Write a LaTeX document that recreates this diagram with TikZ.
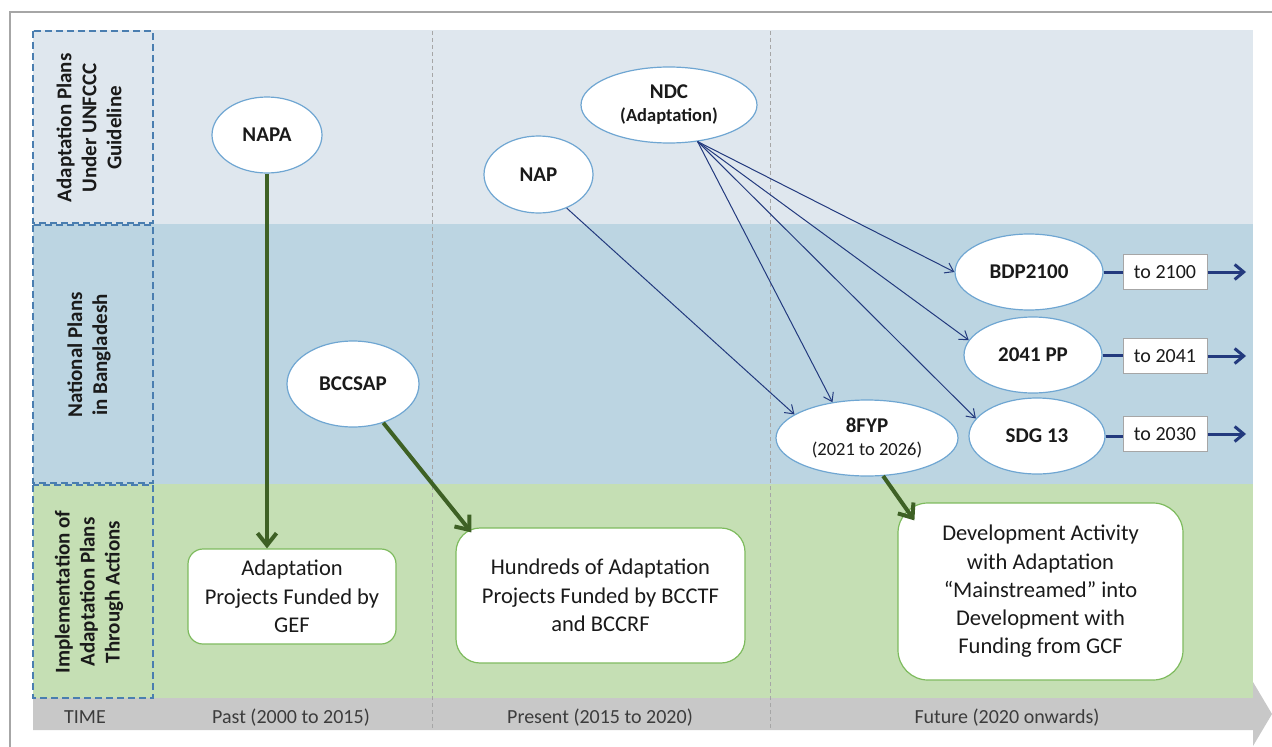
\documentclass[tikz,border=0pt]{standalone}
\usepackage{fontspec}
\setmainfont{Carlito}
\usetikzlibrary{arrows.meta,shapes.geometric,calc}
\definecolor{bandTop}{HTML}{DFE7EE}
\definecolor{bandMid}{HTML}{BCD5E2}
\definecolor{bandGreen}{HTML}{C5DFB4}
\definecolor{timeGray}{HTML}{C8C8C8}
\definecolor{ellBorder}{HTML}{6FA6D2}
\definecolor{navy}{HTML}{233A7E}
\definecolor{darkgreen}{HTML}{3E6125}
\definecolor{boxGreen}{HTML}{7EBB5E}
\definecolor{dashBlue}{HTML}{4A7EB0}
\definecolor{sepGray}{HTML}{A6A6A6}
\definecolor{txt}{HTML}{1A1A1A}
\begin{document}
\begin{tikzpicture}[x=1pt,y=-1pt,
  ell/.style={ellipse, draw=ellBorder, fill=white, line width=1.2pt, inner sep=0pt,
    font=\fontsize{21}{24}\selectfont\bfseries, align=center, text=txt},
  rbox/.style={rectangle, draw=boxGreen, fill=white, line width=1.2pt, inner sep=0pt,
    font=\fontsize{22.5}{28.3}\selectfont, align=center, text=txt},
  tobox/.style={rectangle, draw=sepGray, fill=white, line width=1pt, inner sep=0pt,
    minimum width=84pt, minimum height=35pt, font=\fontsize{20}{24}\selectfont, text=txt},
  sidelbl/.style={rotate=90, font=\fontsize{21}{25}\selectfont\bfseries, align=center, text=txt},
  timelbl/.style={anchor=base, font=\fontsize{20}{24}\selectfont, text=txt!85},
  labbox/.style={draw=dashBlue, line width=2pt, dash pattern=on 7pt off 4pt},
  sepline/.style={draw=sepGray, line width=1pt, dash pattern=on 4pt off 3pt},
  thinarrow/.style={draw=navy, line width=1pt, -{Straight Barb[length=8pt,width=11pt]}},
  thickline/.style={draw=navy, line width=3pt},
  thickarrow/.style={draw=navy, line width=3pt, -{Straight Barb[length=9pt,width=15pt]}},
  greenarrow/.style={draw=darkgreen, line width=4pt, -{Straight Barb[length=12pt,width=19pt]}}
]
\useasboundingbox (0,0) rectangle (1272,747);
\fill[white] (0,0) rectangle (1272,747);
% frame
\draw[sepGray, line width=1.2pt] (10,747) -- (10,12) -- (1272,12);
% bands
\fill[bandTop] (33,30) rectangle (1253,224);
\fill[bandMid] (33,224) rectangle (1253,484);
\fill[bandGreen] (33,484) rectangle (1253,698);
% time bar
\fill[timeGray] (33,698) -- (1253,698) -- (1253,682) -- (1272,714) -- (1253,746) -- (1253,730) -- (33,730) -- cycle;
% separators
\draw[sepline] (432,31) -- (432,730);
\draw[sepline] (770,31) -- (770,730);
% label boxes
\draw[labbox] (33,31) rectangle (153,223);
\draw[labbox] (33,225) rectangle (153,483);
\draw[labbox] (33,485) rectangle (153,698);
\node[sidelbl] (l1) at (89,128) {Adaptation Plans\\Under UNFCCC\\Guideline};
\node[sidelbl] (l2) at (89,355) {National Plans\\in Bangladesh};
\node[sidelbl] (l3) at (89,592) {Implementation of\\Adaptation Plans\\Through Actions};
% time labels
\node[timelbl] (tt) at (85,723) {TIME};
\node[timelbl] (tpast) at (291,723) {Past (2000 to 2015)};
\node[timelbl] (tpres) at (600,723) {Present (2015 to 2020)};
\node[timelbl] (tfut) at (1007,723) {Future (2020 onwards)};
% ellipses
\node[ell, minimum width=110pt, minimum height=76pt] (napa) at (267,135) {NAPA};
\node[ell, minimum width=109pt, minimum height=77pt] (nap) at (538.5,174.5) {NAP};
\node[ell, minimum width=176pt, minimum height=76pt] (ndc) at (669,105) {NDC\\[-1pt]{\fontsize{18.5}{22}\selectfont (Adaptation)}};
\node[ell, minimum width=132pt, minimum height=86pt] (bccsap) at (353,384) {BCCSAP};
\node[ell, minimum width=182pt, minimum height=76pt] (fyp) at (867,438) {8FYP\\[-1pt]{\fontsize{18.5}{22}\selectfont\mdseries (2021 to 2026)}};
\node[ell, minimum width=148pt, minimum height=76pt] (bdp) at (1029,272) {BDP2100};
\node[ell, minimum width=138pt, minimum height=76pt] (pp) at (1033,355) {2041 PP};
\node[ell, minimum width=136pt, minimum height=76pt] (sdg) at (1037,436) {SDG 13};
% to boxes
\node[tobox] (t2100) at (1165,272) {to 2100};
\node[tobox] (t2041) at (1165,356) {to 2041};
\node[tobox] (t2030) at (1165,434) {to 2030};
% rounded boxes
\node[rbox, rounded corners=15pt, minimum width=208pt, minimum height=95pt] (gef) at (292,596.5) {Adaptation\\Projects Funded by\\GEF};
\node[rbox, rounded corners=24pt, minimum width=289pt, minimum height=135pt] (bcctf) at (600.5,595.5) {Hundreds of Adaptation\\Projects Funded by BCCTF\\and BCCRF};
\node[rbox, rounded corners=30pt, minimum width=285pt, minimum height=177pt] (gcf) at (1040.5,591.5) {Development Activity\\with Adaptation\\“Mainstreamed” into\\Development with\\Funding from GCF};
% free ends
\coordinate (e1) at (1246,272);
\coordinate (e2) at (1246,356);
\coordinate (e3) at (1246,434);
% green arrows
\draw[greenarrow] (napa.south) -- (napa.south |- gef.north);
\draw[greenarrow] (bccsap.-52) -- ($(bcctf.north west)+(16,5)$);
\draw[greenarrow] (fyp.-67) -- ($(gcf.north west)+(17,18)$);
% thin navy arrows
\draw[thinarrow] (nap.-50) -- (fyp.162);
\draw[thinarrow] (ndc.-52) -- (fyp.134);
\draw[thinarrow] (ndc.-52) -- (bdp.180);
\draw[thinarrow] (ndc.-52) -- (pp.167);
\draw[thinarrow] (ndc.-52) -- (sdg.164);
% right lines
\draw[thickline] (bdp.east) -- (t2100.west);
\draw[thickline] (pp.east) -- (pp.east -| t2041.west);
\draw[thickline] (sdg.east) -- (sdg.east -| t2030.west);
\draw[thickarrow] (t2100.east) -- (e1);
\draw[thickarrow] (t2041.east) -- (e2);
\draw[thickarrow] (t2030.east) -- (e3);
\end{tikzpicture}
\end{document}
